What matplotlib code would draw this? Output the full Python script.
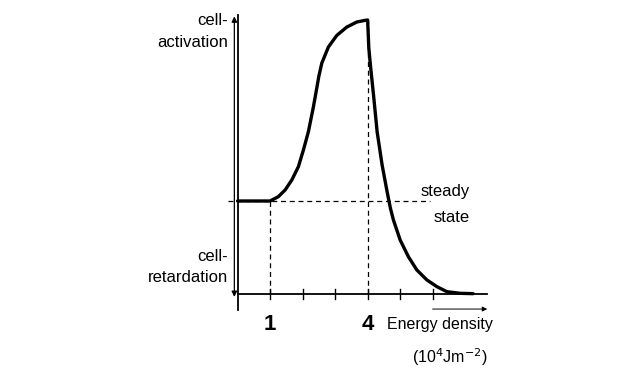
import matplotlib
matplotlib.use("Agg")
import matplotlib.pyplot as plt

# response curve (steady state = 0, peak = 1)
energy = [0.0, 0.69, 1.0, 1.255, 1.462, 1.668, 1.871, 2.025, 2.178, 2.332, 2.437, 2.5, 2.591, 2.794,
          3.052, 3.36, 3.668, 3.923, 4.0, 4.037, 4.086, 4.191, 4.292, 4.446, 4.6, 4.70, 4.794,
          5.0, 5.255, 5.514, 5.822, 6.129, 6.437, 6.846, 7.246]
response = [0.0, 0.0, 0.0, 0.024, 0.061, 0.116, 0.19, 0.282, 0.383, 0.52, 0.625, 0.69, 0.762, 0.851,
            0.915, 0.961, 0.989, 0.998, 1.0, 0.845, 0.751, 0.569, 0.383, 0.199, 0.051, -0.039, -0.105,
            -0.215, -0.308, -0.381, -0.436, -0.473, -0.501, -0.510, -0.512]
ticks = [1, 2, 3, 4, 5, 6]
tick_labels = {1: "1", 4: "4"}
steady = 0.0
bottom = -0.514

plt.rcParams['font.family'] = ['Liberation Sans', 'DejaVu Sans']
fig = plt.figure(figsize=(6.4, 3.8), dpi=100)
ax = fig.add_axes([0, 0, 1, 1])
ax.set_xlim(-7.31, 12.38)
ax.set_ylim(-0.989, 1.1105)
ax.axis("off")

# axes
ax.plot([0, 0], [-0.602, 1.028], color="black", lw=1.3)
ax.plot([0, 7.68], [bottom, bottom], color="black", lw=1.3)
for t in ticks:
    ax.plot([t, t], [bottom - 0.03, bottom + 0.03], color="black", lw=1.0)

# double arrow activation / retardation
ax.annotate("", xy=(-0.1, 1.02), xytext=(-0.1, -0.53),
            arrowprops=dict(arrowstyle="<|-|>", color="black", lw=0.9, mutation_scale=8,
                            shrinkA=0, shrinkB=0))

# dashed guides
ax.plot([-0.29, 5.92], [steady, steady], color="black", lw=0.9, ls=(0, (4, 3)))
ax.plot([1, 1], [bottom, steady], color="black", lw=0.9, ls=(0, (4, 3)))
ax.plot([4, 4], [bottom, 1.0], color="black", lw=0.9, ls=(0, (4, 3)))

# curve
ax.plot(energy, response, color="black", lw=2.4, solid_joinstyle="round", solid_capstyle="round")

# energy arrow
ax.annotate("", xy=(7.68, -0.597), xytext=(6.0, -0.597),
            arrowprops=dict(arrowstyle="-|>", color="black", lw=0.7, mutation_scale=7,
                            shrinkA=0, shrinkB=0))

for t, s in tick_labels.items():
    ax.text(t, -0.685, s, ha="center", va="center", fontsize=16, fontweight="bold")

ax.text(4.6, -0.685, "Energy density", ha="left", va="center", fontsize=11.5)
ax.text(7.7, -0.86, "(10$^4$Jm$^{-2}$)", ha="right", va="center", fontsize=11.5)
ax.text(-0.3, 0.995, "cell-", ha="right", va="center", fontsize=12)
ax.text(-0.3, 0.878, "activation", ha="right", va="center", fontsize=12)
ax.text(-0.3, -0.304, "cell-", ha="right", va="center", fontsize=12)
ax.text(-0.3, -0.425, "retardation", ha="right", va="center", fontsize=12)
ax.text(7.15, 0.05, "steady", ha="right", va="center", fontsize=12)
ax.text(7.15, -0.09, "state", ha="right", va="center", fontsize=12)

fig.savefig("out.png", dpi=100)
